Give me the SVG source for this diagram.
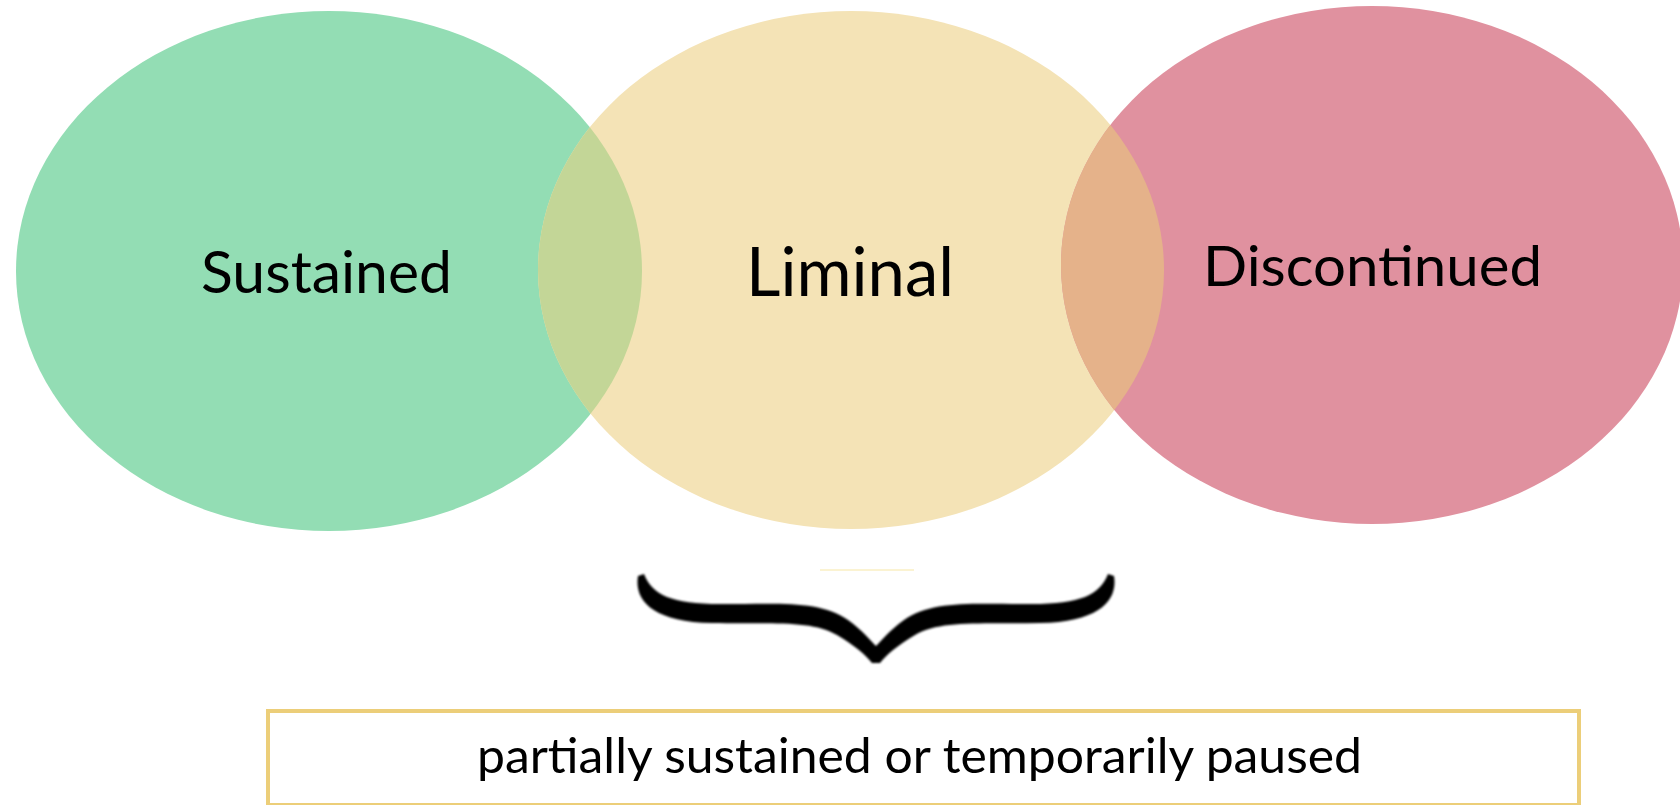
<svg xmlns="http://www.w3.org/2000/svg" width="1680" height="805" viewBox="0 0 1680 805">
  <style>
    .label { font-family: Lato, "Open Sans", "Liberation Sans", sans-serif; fill: #000; }
  </style>
  <defs>
    <clipPath id="clip-liminal">
      <ellipse cx="851" cy="270" rx="313" ry="259"/>
    </clipPath>
    <filter id="soft" x="-5%" y="-20%" width="110%" height="140%">
      <feGaussianBlur stdDeviation="0.8"/>
    </filter>
  </defs>

  <rect width="1680" height="805" fill="#ffffff"/>

  <!-- three overlapping states -->
  <g id="sustained">
    <ellipse cx="329" cy="271" rx="313" ry="260" fill="#93DDB4"/>
  </g>
  <g id="liminal">
    <ellipse cx="851" cy="270" rx="313" ry="259" fill="#F4E3B6"/>
  </g>
  <g id="discontinued">
    <ellipse cx="1372" cy="265" rx="311" ry="259" fill="#E0919F"/>
  </g>

  <!-- overlap lenses -->
  <g id="overlaps" clip-path="url(#clip-liminal)">
    <ellipse cx="329" cy="271" rx="313" ry="260" fill="#C3D697"/>
    <ellipse cx="1372" cy="265" rx="311" ry="259" fill="#E5B28A"/>
  </g>

  <g id="labels">
    <text class="label" x="201" y="293" font-size="58" textLength="251" lengthAdjust="spacingAndGlyphs">Sustained</text>
    <text class="label" x="746" y="296" font-size="68" textLength="208" lengthAdjust="spacingAndGlyphs">Liminal</text>
    <text class="label" x="1203" y="286" font-size="57" textLength="339" lengthAdjust="spacingAndGlyphs">Discontinued</text>
  </g>

  <!-- brace grouping the liminal range -->
  <g id="connectors">
    <line x1="820" y1="570" x2="914" y2="570" stroke="#FBF3D2" stroke-width="2"/>
    <path filter="url(#soft)" fill="#000" d="M 644,574 C 652,595 672,604 720,604 C 780,604 820,600 848,620 C 862,630 872,642 876,646 C 880,642 890,630 904,620 C 932,600 972,604 1032,604 C 1080,604 1100,595 1108,574 L 1114,576 C 1118,600 1100,622 1040,623 C 980,624 940,620 915,635 C 898,645 886,655 880,663 L 872,663 C 866,655 854,645 837,635 C 812,620 772,624 712,623 C 652,622 634,600 638,576 Z"/>
  </g>

  <g id="note">
    <rect x="268" y="711" width="1311" height="94" fill="#ffffff" stroke="#ECCE79" stroke-width="4"/>
    <text class="label" x="477" y="773" font-size="48" textLength="885" lengthAdjust="spacingAndGlyphs">partially sustained or temporarily paused</text>
  </g>
</svg>
